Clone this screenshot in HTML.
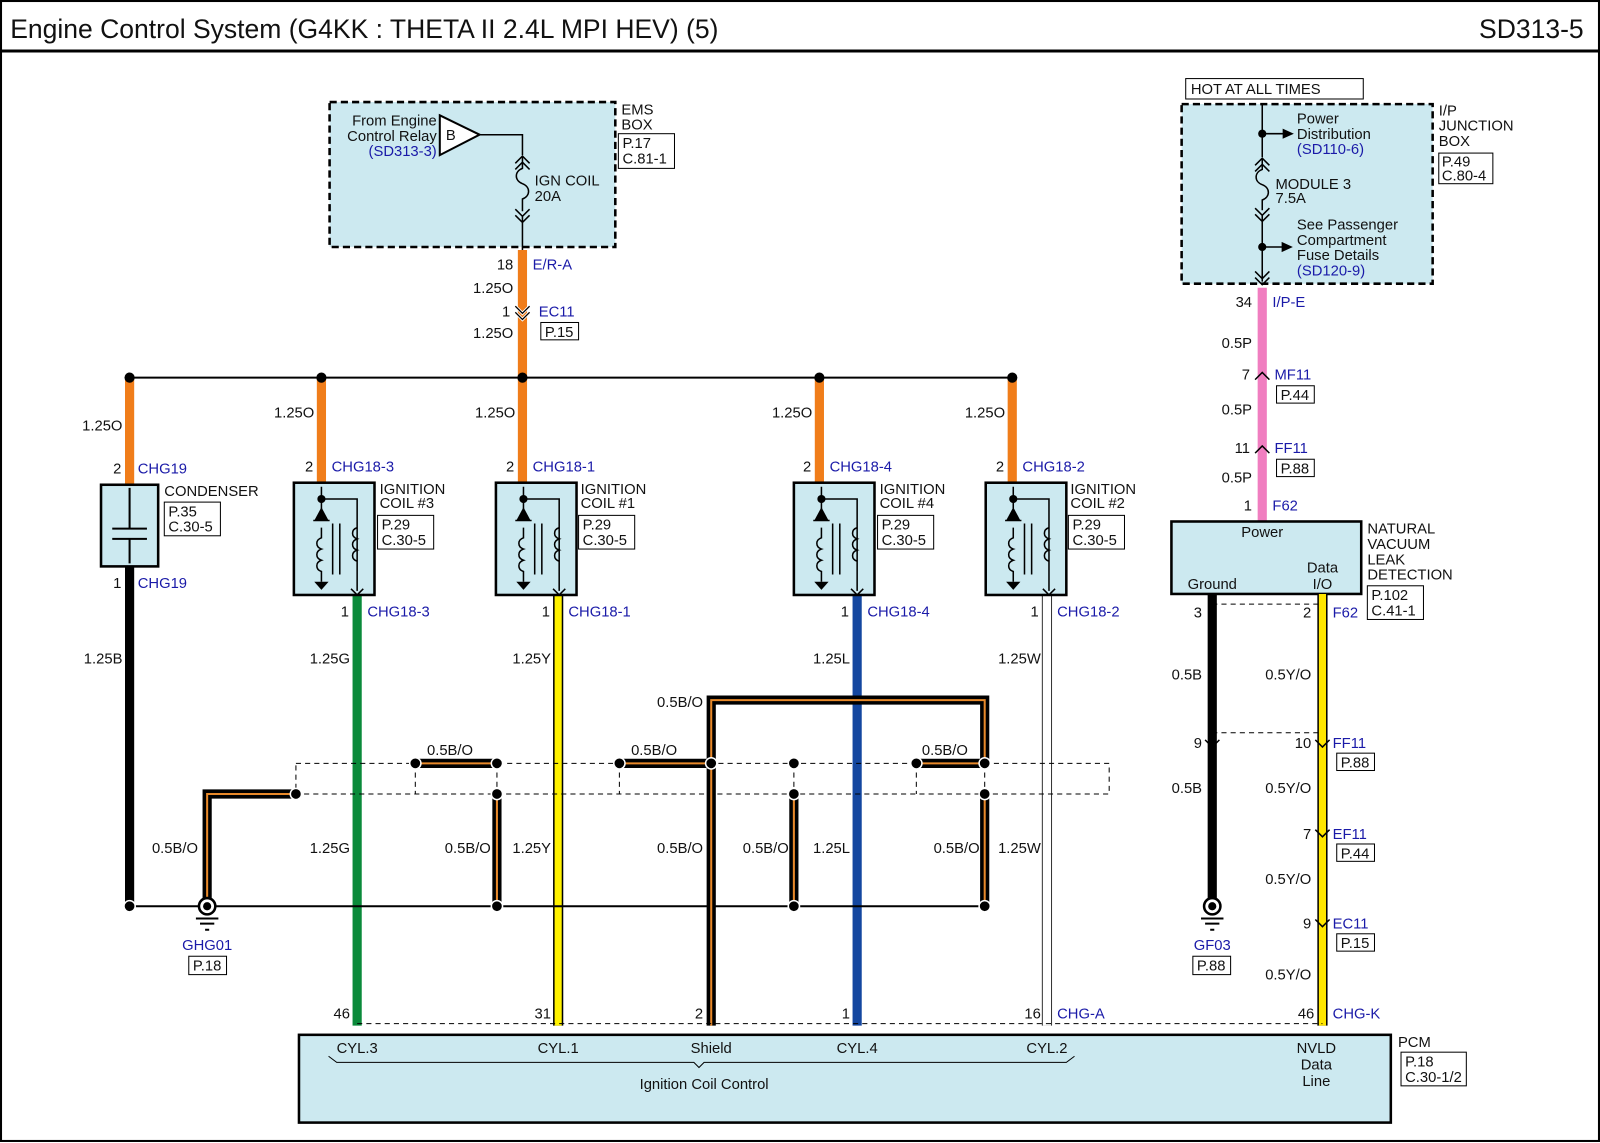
<!DOCTYPE html>
<html><head><meta charset="utf-8"><style>
html,body{margin:0;padding:0;background:#fff}
svg{display:block}
text{font-family:"Liberation Sans",Arial,sans-serif;font-size:14.5px;fill:#111}
.b{fill:#1a1aa8}
.r{text-anchor:end}
.m{text-anchor:middle}
</style></head><body>
<svg width="1600" height="1143" viewBox="0 0 1568 1120" preserveAspectRatio="none" xmlns="http://www.w3.org/2000/svg">
<rect x="1" y="1" width="1566" height="1117" fill="#fff" stroke="#000" stroke-width="2"/>
<text x="10" y="37" style="font-size:26px">Engine Control System (G4KK : THETA II 2.4L MPI HEV) (5)</text>
<text x="1552" y="37" class="r" style="font-size:26px">SD313-5</text>
<line x1="0" y1="50" x2="1568" y2="50" stroke="#000" stroke-width="3"/>

<!-- EMS box -->
<rect x="323" y="100" width="280" height="142" fill="#cce9f0" stroke="#000" stroke-width="2.5" stroke-dasharray="7,4"/>
<text x="609" y="112">EMS</text><text x="609" y="127">BOX</text>
<rect x="606" y="131" width="55" height="34" fill="#fff" stroke="#000"/>
<text x="610" y="145">P.17</text><text x="610" y="160">C.81-1</text>
<text x="428" y="123" class="r">From Engine</text><text x="428" y="138" class="r">Control Relay</text>
<text x="428" y="153" class="r b">(SD313-3)</text>
<polygon points="431,113 470,132 431,152" fill="#fff" stroke="#000" stroke-width="2"/>
<text x="437" y="137">B</text>
<polyline points="470,132 512,132 512,152" fill="none" stroke="#000" stroke-width="1.5"/>
<path d="M505,160 l7,-7 l7,7 M505,166 l7,-7 l7,7 M512,153 v12 c-8,3 -8,12 0,15 c8,3 8,12 0,15 v12 M505,205 l7,7 l7,-7 M505,211 l7,7 l7,-7 M512,212 v33" fill="none" stroke="#000" stroke-width="1.5"/>
<text x="524" y="182">IGN COIL</text><text x="524" y="197">20A</text>

<!-- I/P junction -->
<rect x="1162" y="77" width="174" height="20" fill="#fff" stroke="#000"/>
<text x="1167" y="92">HOT AT ALL TIMES</text>
<rect x="1158" y="102" width="246" height="176" fill="#cce9f0" stroke="#000" stroke-width="2.5" stroke-dasharray="7,4"/>
<text x="1410" y="113">I/P</text><text x="1410" y="128">JUNCTION</text><text x="1410" y="143">BOX</text>
<rect x="1410" y="150" width="53" height="30" fill="#fff" stroke="#000"/>
<text x="1413" y="163">P.49</text><text x="1413" y="177">C.80-4</text>
<path d="M1237,102 v52 M1230,162 l7,-7 l7,7 M1230,168 l7,-7 l7,7 M1237,156 v10 c-8,3 -8,12 0,15 c8,3 8,12 0,15 v10 M1230,204 l7,7 l7,-7 M1230,210 l7,7 l7,-7 M1237,211 v65 M1237,131 h22 M1237,242 h22 M1230,266 l7,7 l7,-7 M1230,272 l7,7 l7,-7" fill="none" stroke="#000" stroke-width="1.5"/>
<circle cx="1237" cy="131" r="4"/><circle cx="1237" cy="242" r="4"/>
<polygon points="1257,126 1268,131 1257,136"/><polygon points="1256,237 1267,242 1256,247"/>
<text x="1271" y="121">Power</text><text x="1271" y="136">Distribution</text><text x="1271" y="151" class="b">(SD110-6)</text>
<text x="1250" y="185">MODULE 3</text><text x="1250" y="199">7.5A</text>
<text x="1271" y="225">See Passenger</text><text x="1271" y="240">Compartment</text><text x="1271" y="255">Fuse Details</text><text x="1271" y="270" class="b">(SD120-9)</text>

<!-- orange main -->
<line x1="512" y1="245" x2="512" y2="370" stroke="#f07d1a" stroke-width="9"/>
<path d="M505,300 l7,7 l7,-7 M505,306 l7,7 l7,-7" fill="none" stroke="#fff" stroke-width="3"/>
<path d="M505,300 l7,7 l7,-7 M505,306 l7,7 l7,-7" fill="none" stroke="#000" stroke-width="1.3"/>
<text x="503" y="264" class="r">18</text><text x="522" y="264" class="b">E/R-A</text>
<text x="503" y="287" class="r">1.25O</text>
<text x="500" y="310" class="r">1</text><text x="528" y="310" class="b">EC11</text>
<rect x="530" y="316" width="37" height="17" fill="#fff" stroke="#000"/><text x="534" y="330">P.15</text>
<text x="503" y="331" class="r">1.25O</text>

<line x1="127" y1="370" x2="992" y2="370" stroke="#000" stroke-width="2"/>
<g stroke="#f07d1a" stroke-width="9">
<line x1="127" y1="370" x2="127" y2="475"/><line x1="315" y1="370" x2="315" y2="473"/>
<line x1="512" y1="370" x2="512" y2="473"/><line x1="803" y1="370" x2="803" y2="473"/>
<line x1="992" y1="370" x2="992" y2="473"/></g>
<g><circle cx="127" cy="370" r="5"/><circle cx="315" cy="370" r="5"/><circle cx="512" cy="370" r="5"/><circle cx="803" cy="370" r="5"/><circle cx="992" cy="370" r="5"/></g>
<text x="120" y="422" class="r">1.25O</text><text x="308" y="409" class="r">1.25O</text><text x="505" y="409" class="r">1.25O</text><text x="796" y="409" class="r">1.25O</text><text x="985" y="409" class="r">1.25O</text>
<text x="119" y="464" class="r">2</text><text x="135" y="464" class="b">CHG19</text>
<text x="307" y="462" class="r">2</text><text x="325" y="462" class="b">CHG18-3</text>
<text x="504" y="462" class="r">2</text><text x="522" y="462" class="b">CHG18-1</text>
<text x="795" y="462" class="r">2</text><text x="813" y="462" class="b">CHG18-4</text>
<text x="984" y="462" class="r">2</text><text x="1002" y="462" class="b">CHG18-2</text>

<!-- lower wires -->
<line x1="127" y1="555" x2="127" y2="888" stroke="#000" stroke-width="9"/>
<line x1="350" y1="583" x2="350" y2="1005" stroke="#0a8a3a" stroke-width="9"/>
<line x1="547" y1="583" x2="547" y2="1005" stroke="#000" stroke-width="10"/>
<line x1="547" y1="583" x2="547" y2="1005" stroke="#fff200" stroke-width="7"/>
<line x1="840" y1="583" x2="840" y2="1005" stroke="#1447a0" stroke-width="9"/>
<line x1="1026" y1="583" x2="1026" y2="1005" stroke="#333" stroke-width="10"/>
<line x1="1026" y1="583" x2="1026" y2="1005" stroke="#fff" stroke-width="8"/>
<text x="119" y="576" class="r">1</text><text x="135" y="576" class="b">CHG19</text>
<text x="342" y="604" class="r">1</text><text x="360" y="604" class="b">CHG18-3</text>
<text x="539" y="604" class="r">1</text><text x="557" y="604" class="b">CHG18-1</text>
<text x="832" y="604" class="r">1</text><text x="850" y="604" class="b">CHG18-4</text>
<text x="1018" y="604" class="r">1</text><text x="1036" y="604" class="b">CHG18-2</text>
<text x="120" y="650" class="r">1.25B</text><text x="343" y="650" class="r">1.25G</text><text x="540" y="650" class="r">1.25Y</text><text x="833" y="650" class="r">1.25L</text><text x="1020" y="650" class="r">1.25W</text>
<text x="343" y="836" class="r">1.25G</text><text x="540" y="836" class="r">1.25Y</text><text x="833" y="836" class="r">1.25L</text><text x="1020" y="836" class="r">1.25W</text>

<!-- condenser -->
<rect x="99" y="475" width="56" height="80" fill="#cce9f0" stroke="#000" stroke-width="2.5"/>
<path d="M127,478 v40 M110,518 h34 M110,528 h34 M127,528 v24" stroke="#000" stroke-width="2" fill="none"/>
<text x="161" y="486">CONDENSER</text>
<rect x="161" y="492" width="55" height="33" fill="#fff" stroke="#000"/><text x="165" y="506">P.35</text><text x="165" y="521">C.30-5</text>

<!-- coils -->
<defs><g id="coil">
<rect x="0" y="0" width="79" height="110" fill="#cce9f0" stroke="#000" stroke-width="2.5"/>
<path d="M27,4 v12 M27,16 h35 v90 M27,16 v20 M19,37 h16 M27,44 v10 c-6,2 -6,9 0,11 c-6,2 -6,9 0,11 c-6,2 -6,9 0,11 v10 M62,44 c-6,2 -6,9 0,11 c-6,2 -6,9 0,11 c-6,2 -6,9 0,11 M38,40 v50 M45,40 v50 M56,104 l6,6 l6,-6" stroke="#000" stroke-width="1.5" fill="none"/>
<circle cx="27" cy="16" r="4"/><polygon points="20,37 34,37 27,24"/><polygon points="20,97 34,97 27,105"/>
</g></defs>
<use href="#coil" x="288" y="473"/><use href="#coil" x="486" y="473"/><use href="#coil" x="778" y="473"/><use href="#coil" x="966" y="473"/>
<text x="372" y="484">IGNITION</text><text x="372" y="498">COIL #3</text>
<rect x="370" y="505" width="55" height="33" fill="#fff" stroke="#000"/><text x="374" y="519">P.29</text><text x="374" y="534">C.30-5</text>
<text x="569" y="484">IGNITION</text><text x="569" y="498">COIL #1</text>
<rect x="567" y="505" width="55" height="33" fill="#fff" stroke="#000"/><text x="571" y="519">P.29</text><text x="571" y="534">C.30-5</text>
<text x="862" y="484">IGNITION</text><text x="862" y="498">COIL #4</text>
<rect x="860" y="505" width="55" height="33" fill="#fff" stroke="#000"/><text x="864" y="519">P.29</text><text x="864" y="534">C.30-5</text>
<text x="1049" y="484">IGNITION</text><text x="1049" y="498">COIL #2</text>
<rect x="1047" y="505" width="55" height="33" fill="#fff" stroke="#000"/><text x="1051" y="519">P.29</text><text x="1051" y="534">C.30-5</text>

<!-- shield dashed -->
<path d="M290,748 H1087 V778 H290 Z M407,748 V778 M487,748 V778 M607,748 V778 M778,748 V778 M898,748 V778 M965,748 V778" fill="none" stroke="#000" stroke-width="1" stroke-dasharray="5,4"/>
<line x1="127" y1="888" x2="965" y2="888" stroke="#000" stroke-width="2"/>
<g fill="none" stroke-linejoin="miter">
<g stroke="#000" stroke-width="9">
<path d="M203,880 V778 H290"/><path d="M407,748 H487"/><path d="M607,748 H697"/><path d="M898,748 H965"/>
<path d="M487,778 V888"/><path d="M778,778 V888"/><path d="M965,778 V888"/>
<path d="M697,1005 V686 H965 V748"/></g>
<g stroke="#e8892a" stroke-width="2">
<path d="M203,880 V778 H290"/><path d="M407,748 H487"/><path d="M607,748 H697"/><path d="M898,748 H965"/>
<path d="M487,778 V888"/><path d="M778,778 V888"/><path d="M965,778 V888"/>
<path d="M697,1005 V686 H965 V748"/></g></g>
<g stroke="#fff" stroke-width="1.5">
<circle cx="290" cy="778" r="5.5"/><circle cx="407" cy="748" r="5.5"/><circle cx="487" cy="748" r="5.5"/><circle cx="487" cy="778" r="5.5"/><circle cx="607" cy="748" r="5.5"/><circle cx="697" cy="748" r="5.5"/><circle cx="778" cy="748" r="5.5"/><circle cx="778" cy="778" r="5.5"/><circle cx="898" cy="748" r="5.5"/><circle cx="965" cy="748" r="5.5"/><circle cx="965" cy="778" r="5.5"/><circle cx="487" cy="888" r="5.5"/><circle cx="778" cy="888" r="5.5"/><circle cx="965" cy="888" r="5.5"/><circle cx="127" cy="888" r="5.5"/></g>
<text x="441" y="740" class="m">0.5B/O</text><text x="641" y="740" class="m">0.5B/O</text><text x="926" y="740" class="m">0.5B/O</text>
<text x="689" y="693" class="r">0.5B/O</text>
<text x="194" y="836" class="r">0.5B/O</text><text x="481" y="836" class="r">0.5B/O</text><text x="689" y="836" class="r">0.5B/O</text><text x="773" y="836" class="r">0.5B/O</text><text x="960" y="836" class="r">0.5B/O</text>
<!-- GHG01 -->
<circle cx="203" cy="888" r="8" fill="#fff" stroke="#000" stroke-width="2.5"/><circle cx="203" cy="888" r="4"/>
<path d="M192,900 h22 M196,905 h14 M201,911 h4" stroke="#000" stroke-width="2"/>
<text x="203" y="931" class="m b">GHG01</text>
<rect x="185" y="937" width="37" height="18" fill="#fff" stroke="#000"/><text x="189" y="951">P.18</text>

<!-- right pink -->
<line x1="1237" y1="282" x2="1237" y2="510" stroke="#f07ec0" stroke-width="9"/>
<path d="M1230,372 l7,-7 l7,7 M1230,444 l7,-7 l7,7" fill="none" stroke="#000" stroke-width="1.5"/>
<text x="1227" y="301" class="r">34</text><text x="1247" y="301" class="b">I/P-E</text>
<text x="1227" y="341" class="r">0.5P</text>
<text x="1225" y="372" class="r">7</text><text x="1249" y="372" class="b">MF11</text>
<rect x="1251" y="378" width="37" height="17" fill="#fff" stroke="#000"/><text x="1255" y="392">P.44</text>
<text x="1227" y="406" class="r">0.5P</text>
<text x="1225" y="444" class="r">11</text><text x="1249" y="444" class="b">FF11</text>
<rect x="1251" y="450" width="37" height="17" fill="#fff" stroke="#000"/><text x="1255" y="464">P.88</text>
<text x="1227" y="473" class="r">0.5P</text>
<text x="1227" y="500" class="r">1</text><text x="1247" y="500" class="b">F62</text>
<rect x="1148" y="511" width="186" height="71" fill="#cce9f0" stroke="#000" stroke-width="2.5"/>
<text x="1237" y="526" class="m">Power</text><text x="1188" y="577" class="m">Ground</text><text x="1296" y="561" class="m">Data</text><text x="1296" y="577" class="m">I/O</text>
<text x="1340" y="523">NATURAL</text><text x="1340" y="538">VACUUM</text><text x="1340" y="553">LEAK</text><text x="1340" y="568">DETECTION</text>
<rect x="1340" y="574" width="55" height="33" fill="#fff" stroke="#000"/><text x="1344" y="588">P.102</text><text x="1344" y="603">C.41-1</text>
<line x1="1188" y1="582" x2="1188" y2="880" stroke="#000" stroke-width="9"/>
<line x1="1296" y1="582" x2="1296" y2="1005" stroke="#000" stroke-width="10"/>
<line x1="1296" y1="582" x2="1296" y2="1005" stroke="#ffe600" stroke-width="7"/>
<path d="M1188,592 H1296 M1188,718 H1296" stroke="#000" stroke-dasharray="5,4"/>
<path d="M1181,725 l7,7 l7,-7 M1289,725 l7,7 l7,-7 M1289,813 l7,7 l7,-7 M1289,901 l7,7 l7,-7" fill="none" stroke="#000" stroke-width="1.5"/>
<text x="1178" y="605" class="r">3</text><text x="1285" y="605" class="r">2</text><text x="1306" y="605" class="b">F62</text>
<text x="1178" y="666" class="r">0.5B</text><text x="1285" y="666" class="r">0.5Y/O</text>
<text x="1178" y="733" class="r">9</text><text x="1285" y="733" class="r">10</text><text x="1306" y="733" class="b">FF11</text>
<rect x="1310" y="738" width="37" height="17" fill="#fff" stroke="#000"/><text x="1314" y="752">P.88</text>
<text x="1178" y="777" class="r">0.5B</text><text x="1285" y="777" class="r">0.5Y/O</text>
<text x="1285" y="822" class="r">7</text><text x="1306" y="822" class="b">EF11</text>
<rect x="1310" y="827" width="37" height="17" fill="#fff" stroke="#000"/><text x="1314" y="841">P.44</text>
<text x="1285" y="866" class="r">0.5Y/O</text>
<text x="1285" y="910" class="r">9</text><text x="1306" y="910" class="b">EC11</text>
<rect x="1310" y="915" width="37" height="17" fill="#fff" stroke="#000"/><text x="1314" y="929">P.15</text>
<text x="1285" y="960" class="r">0.5Y/O</text>
<circle cx="1188" cy="888" r="8" fill="#fff" stroke="#000" stroke-width="2.5"/><circle cx="1188" cy="888" r="4"/>
<path d="M1177,900 h22 M1181,905 h14 M1186,911 h4" stroke="#000" stroke-width="2"/>
<text x="1188" y="931" class="m b">GF03</text>
<rect x="1169" y="937" width="37" height="18" fill="#fff" stroke="#000"/><text x="1173" y="951">P.88</text>

<!-- PCM -->
<line x1="350" y1="1003" x2="1296" y2="1003" stroke="#000" stroke-dasharray="5,4"/>
<rect x="293" y="1014" width="1070" height="86" fill="#cce9f0" stroke="#000" stroke-width="2.5"/>
<text x="343" y="998" class="r">46</text><text x="540" y="998" class="r">31</text><text x="689" y="998" class="r">2</text><text x="833" y="998" class="r">1</text><text x="1020" y="998" class="r">16</text><text x="1036" y="998" class="b">CHG-A</text>
<text x="1288" y="998" class="r">46</text><text x="1306" y="998" class="b">CHG-K</text>
<text x="350" y="1032" class="m">CYL.3</text><text x="547" y="1032" class="m">CYL.1</text><text x="697" y="1032" class="m">Shield</text><text x="840" y="1032" class="m">CYL.4</text><text x="1026" y="1032" class="m">CYL.2</text>
<text x="1290" y="1032" class="m">NVLD</text><text x="1290" y="1048" class="m">Data</text><text x="1290" y="1064" class="m">Line</text>
<path d="M322,1035 l8,6 H680 l5,5 l5,-5 H1045 l8,-6" fill="none" stroke="#000" stroke-width="1"/>
<text x="690" y="1067" class="m">Ignition Coil Control</text>
<text x="1370" y="1026">PCM</text>
<rect x="1373" y="1031" width="64" height="33" fill="#fff" stroke="#000"/><text x="1377" y="1045">P.18</text><text x="1377" y="1060">C.30-1/2</text>
</svg>
</body></html>
